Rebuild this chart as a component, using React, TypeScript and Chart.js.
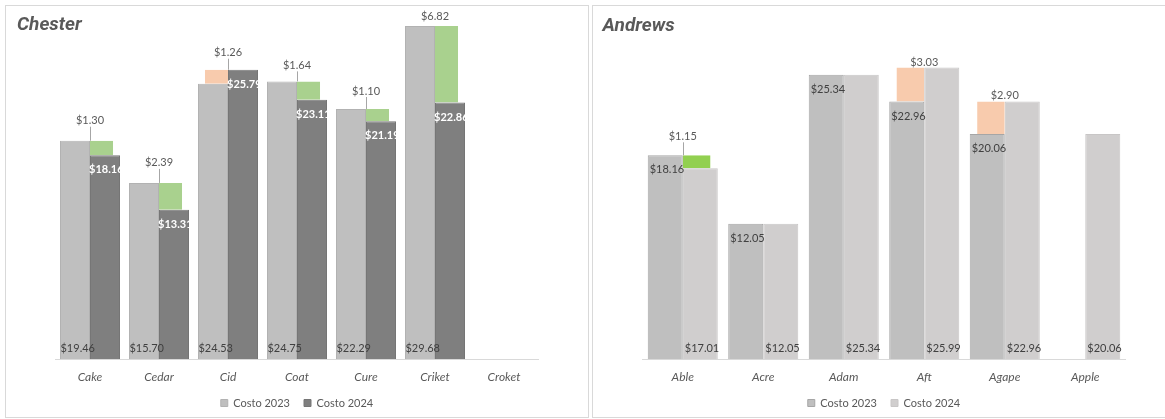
import React, { useEffect, useRef } from 'react';
import { Chart, registerables } from 'chart.js';

Chart.register(...registerables);

// ---------- data ----------
const chesterCategories = ['Cake', 'Cedar', 'Cid', 'Coat', 'Cure', 'Criket', 'Croket'];
const chesterCosto2023: (number | null)[] = [19.46, 15.7, 24.53, 24.75, 22.29, 29.68, null];
const chesterCosto2024: (number | null)[] = [18.16, 13.31, 25.79, 23.11, 21.19, 22.86, null];

const andrewsCategories = ['Able', 'Acre', 'Adam', 'Aft', 'Agape', 'Apple'];
const andrewsCosto2023: (number | null)[] = [18.16, 12.05, 25.34, 22.96, 20.06, null];
const andrewsCosto2024: (number | null)[] = [17.01, 12.05, 25.34, 25.99, 22.96, 20.06];

const seriesNames = ['Costo 2023', 'Costo 2024'];
const yMin = 0;
const yMax = 30;

// label lift (px) of the difference labels above their bar (style only)
const chesterDeltaLift = [20, 20, 17, 16, 18, 10, 0];
const andrewsDeltaLift = [19, 0, 0, 5, 6, 0];

// ---------- helpers ----------
const fmt = (v: number) => '$' + v.toFixed(2);

function increases(a: (number | null)[], b: (number | null)[]) {
  return a.map((v, i) => (v != null && b[i] != null && (b[i] as number) > v ? [v, b[i] as number] : null));
}
function decreases(a: (number | null)[], b: (number | null)[]) {
  return a.map((v, i) => (v != null && b[i] != null && (b[i] as number) < v ? [b[i] as number, v] : null));
}

const LABEL_FONT = 'Lato, "Noto Sans", sans-serif';
const TEXT_GRAY = '#595959';
const CLEAR = 'rgba(0,0,0,0)';

type Spec = {
  title: string;
  titleX: number;
  titleY: number;
  labels: string[];
  a: (number | null)[];
  b: (number | null)[];
  colorA: string;
  borderA: string;
  colorB: string;
  borderB: string;
  green: string;
  orange: string;
  deltaInset: number;
  topDs: number;
  topColor: string;
  topBold: boolean;
  topDx: number;
  bottomDs: number;
  bottomColor: string;
  bottomDx: number;
  lifts: number[];
};

function makeLabelPlugin(spec: Spec) {
  return {
    id: 'panelLabels',
    afterDatasetsDraw(chart: any) {
      const ctx: CanvasRenderingContext2D = chart.ctx;
      ctx.save();
      ctx.textBaseline = 'middle';

      // labels at the top inside of bars
      const topMeta = chart.getDatasetMeta(spec.topDs);
      ctx.font = (spec.topBold ? 'bold ' : '') + '11px ' + LABEL_FONT;
      ctx.fillStyle = spec.topColor;
      ctx.textAlign = 'left';
      topMeta.data.forEach((bar: any, i: number) => {
        const v = chart.data.datasets[spec.topDs].data[i];
        if (v == null) return;
        const p = bar.getProps(['x', 'y', 'base', 'width'], true);
        const top = Math.min(p.y, p.base);
        ctx.fillText(fmt(v), p.x - p.width / 2 + spec.topDx, top + 14.5);
      });

      // labels at the bottom inside of bars
      const botMeta = chart.getDatasetMeta(spec.bottomDs);
      ctx.font = '11px ' + LABEL_FONT;
      ctx.fillStyle = spec.bottomColor;
      botMeta.data.forEach((bar: any, i: number) => {
        const v = chart.data.datasets[spec.bottomDs].data[i];
        if (v == null) return;
        const p = bar.getProps(['x', 'y', 'base', 'width'], true);
        const bottom = Math.max(p.y, p.base);
        ctx.fillText(fmt(v), p.x - p.width / 2 + spec.bottomDx, bottom - 11);
      });

      // difference labels with leader lines
      ctx.font = '11px ' + LABEL_FONT;
      ctx.textAlign = 'center';
      [2, 3].forEach((ds) => {
        const meta = chart.getDatasetMeta(ds);
        meta.data.forEach((bar: any, i: number) => {
          const r = chart.data.datasets[ds].data[i];
          if (!r) return;
          const p = bar.getProps(['y', 'base'], true);
          const top = Math.min(p.y, p.base);
          const cx = chart.scales.x.getPixelForValue(i);
          const lift = spec.lifts[i] || 0;
          const ly = top - lift;
          ctx.fillStyle = TEXT_GRAY;
          ctx.fillText(fmt(r[1] - r[0]), cx, ly);
          if (lift > 14) {
            ctx.strokeStyle = '#A6A6A6';
            ctx.lineWidth = 1;
            ctx.beginPath();
            ctx.moveTo(Math.round(cx) + 0.5, ly + 6);
            ctx.lineTo(Math.round(cx) + 0.5, top);
            ctx.stroke();
          }
        });
      });
      ctx.restore();
    },
    afterDraw(chart: any) {
      const ctx: CanvasRenderingContext2D = chart.ctx;
      ctx.save();
      ctx.font = 'italic bold 19px Roboto, "Liberation Sans", sans-serif';
      ctx.fillStyle = TEXT_GRAY;
      ctx.textAlign = 'left';
      ctx.textBaseline = 'alphabetic';
      ctx.fillText(spec.title, spec.titleX, spec.titleY);
      ctx.restore();
    },
  };
}

const CP = 0.87;

function buildConfig(spec: Spec): any {
  return {
    type: 'bar',
    data: {
      labels: spec.labels,
      datasets: [
        {
          label: seriesNames[0],
          data: spec.a,
          stack: 'prev',
          backgroundColor: spec.colorA,
          borderColor: spec.borderA,
          borderWidth: 1,
          categoryPercentage: CP,
          barPercentage: 1,
        },
        {
          label: seriesNames[1],
          data: spec.b,
          stack: 'curr',
          backgroundColor: spec.colorB,
          borderColor: spec.borderB,
          borderWidth: 1,
          categoryPercentage: CP,
          barPercentage: 1,
        },
        {
          label: 'up',
          data: increases(spec.a, spec.b),
          stack: 'prev',
          backgroundColor: spec.orange,
          borderColor: CLEAR,
          borderWidth: { left: spec.deltaInset, right: 0, top: 0, bottom: 0 },
          borderSkipped: false,
          categoryPercentage: CP,
          barPercentage: 1,
        },
        {
          label: 'down',
          data: decreases(spec.a, spec.b),
          stack: 'curr',
          backgroundColor: spec.green,
          borderColor: CLEAR,
          borderWidth: { left: 0, right: spec.deltaInset, top: 0, bottom: 0 },
          borderSkipped: false,
          categoryPercentage: CP,
          barPercentage: 1,
        },
      ],
    },
    options: {
      responsive: false,
      animation: false,
      layout: { padding: { left: 49.5, right: 49.5, top: 16.5, bottom: -1.5 } },
      scales: {
        x: {
          type: 'category',
          position: 'bottom',
          offset: true,
          grid: { display: false, drawTicks: false, offset: true },
          border: { display: true, color: '#D9D9D9', width: 1 },
          ticks: {
            color: TEXT_GRAY,
            font: { family: LABEL_FONT, size: 12, style: 'italic' },
            padding: 11,
            maxRotation: 0,
            minRotation: 0,
            autoSkip: false,
          },
          afterFit: (s: any) => {
            s.height = 24.5;
          },
        },
        y: {
          type: 'linear',
          display: false,
          min: yMin,
          max: yMax,
          stacked: false,
        },
      },
      plugins: {
        title: { display: false },
        tooltip: { enabled: false },
        legend: {
          display: true,
          position: 'bottom',
          fullSize: false,
          align: 'center',
          labels: {
            boxWidth: 7,
            boxHeight: 7,
            padding: 14,
            color: TEXT_GRAY,
            font: { family: LABEL_FONT, size: 11 },
            filter: (item: any) => item.datasetIndex < 2,
          },
        },
      },
    },
    plugins: [makeLabelPlugin(spec)],
  };
}

const chesterSpec: Spec = {
  title: 'Chester',
  titleX: 11,
  titleY: 24,
  labels: chesterCategories,
  a: chesterCosto2023,
  b: chesterCosto2024,
  colorA: '#BFBFBF',
  borderA: '#B2B2B2',
  colorB: '#7F7F7F',
  borderB: '#767676',
  green: '#A9D18E',
  orange: '#F8CBAD',
  deltaInset: 7,
  topDs: 1,
  topColor: '#FFFFFF',
  topBold: true,
  topDx: -1,
  bottomDs: 0,
  bottomColor: '#404040',
  bottomDx: 0.5,
  lifts: chesterDeltaLift,
};

const andrewsSpec: Spec = {
  title: 'Andrews',
  titleX: 9.5,
  titleY: 25,
  labels: andrewsCategories,
  a: andrewsCosto2023,
  b: andrewsCosto2024,
  colorA: '#BFBFBF',
  borderA: '#A6A6A6',
  colorB: '#D0CECE',
  borderB: '#C8C6C6',
  green: '#92D050',
  orange: '#F8CBAD',
  deltaInset: 7.5,
  topDs: 0,
  topColor: '#404040',
  topBold: false,
  topDx: 2,
  bottomDs: 1,
  bottomColor: '#404040',
  bottomDx: 2,
  lifts: andrewsDeltaLift,
};

function Panel({ spec, left }: { spec: Spec; left: number }) {
  const ref = useRef<HTMLCanvasElement>(null);
  useEffect(() => {
    if (!ref.current) return;
    const chart = new Chart(ref.current, buildConfig(spec));
    return () => chart.destroy();
  }, [spec]);
  return (
    <div
      style={{
        position: 'absolute',
        left,
        top: 5,
        width: 584,
        height: 413,
        boxSizing: 'border-box',
        border: '1px solid #D9D9D9',
        background: '#FFFFFF',
      }}
    >
      <canvas ref={ref} width={582} height={411} style={{ display: 'block', width: 582, height: 411 }} />
    </div>
  );
}

export default function App() {
  return (
    <div
      style={{
        position: 'fixed',
        left: 0,
        top: 0,
        width: 1165,
        height: 419,
        overflow: 'hidden',
        background: '#FFFFFF',
      }}
    >
      <Panel spec={chesterSpec} left={5} />
      <Panel spec={andrewsSpec} left={592} />
    </div>
  );
}
